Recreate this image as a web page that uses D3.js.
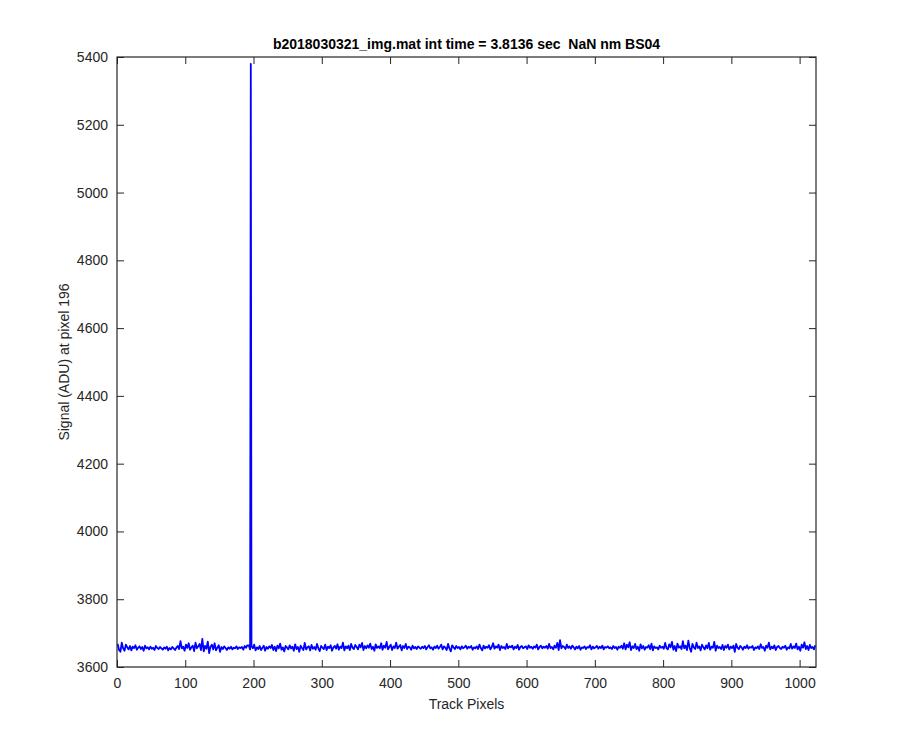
<!DOCTYPE html>
<html>
<head>
<meta charset="utf-8">
<script src="https://cdn.jsdelivr.net/npm/d3@7"></script>
<style>
  html, body { margin: 0; padding: 0; background: #fff; }
  svg { display: block; font-family: "Liberation Sans", Arial, Helvetica, sans-serif; }
</style>
</head>
<body>
<svg id="chart" width="900" height="750"></svg>
<script>
// ---- Data ----
const titleText = "b2018030321_img.mat int time = 3.8136 sec  NaN nm BS04";
const xLabel = "Track Pixels";
const yLabel = "Signal (ADU) at pixel 196";
const xTicks = [0, 100, 200, 300, 400, 500, 600, 700, 800, 900, 1000];
const yTicks = [3600, 3800, 4000, 4200, 4400, 4600, 4800, 5000, 5200, 5400];
const xDomain = [0, 1024];
const yDomain = [3600, 5400];
// signal sampled at odd track pixels 1,3,5,...,1023
const signalOdd = [
3668,3650,3645,3672,3655,3648,3666,3658,3652,3662,3649,3660,3656,3664,3651,3657,
3661,3653,3659,3648,3663,3655,3658,3652,3660,3654,3657,3650,3662,3656,3653,3659,
3655,3651,3658,3654,3660,3649,3656,3652,3659,3655,3650,3657,3662,3653,3676,3655,
3660,3648,3666,3656,3670,3651,3658,3663,3647,3672,3655,3661,3668,3650,3683,3646,
3662,3654,3675,3641,3660,3666,3652,3670,3649,3657,3664,3645,3659,3653,3661,3656,
3650,3658,3654,3660,3652,3657,3655,3661,3653,3658,3656,3659,3651,3662,3657,3664,
3664,3652,3661,3655,3666,3649,3658,3653,3662,3650,3657,3663,3648,3659,3654,3661,
3656,3665,3650,3660,3647,3663,3655,3669,3651,3658,3646,3662,3657,3652,3664,3655,
3660,3648,3667,3653,3659,3645,3663,3656,3650,3671,3652,3658,3661,3649,3665,3654,
3659,3651,3668,3655,3647,3662,3657,3653,3666,3650,3660,3656,3664,3648,3658,3662,
3654,3667,3651,3660,3656,3672,3649,3661,3655,3663,3650,3668,3657,3653,3665,3659,
3652,3666,3658,3671,3650,3662,3655,3664,3657,3669,3653,3660,3648,3667,3656,3661,
3655,3670,3651,3663,3657,3674,3652,3659,3666,3650,3661,3656,3672,3654,3660,3665,
3649,3662,3656,3668,3653,3660,3658,3651,3663,3655,3659,3653,3661,3657,3654,3660,
3656,3662,3652,3659,3664,3655,3658,3651,3660,3656,3663,3654,3659,3666,3652,3661,
3657,3650,3668,3655,3646,3664,3658,3653,3662,3656,3659,3652,3661,3655,3658,3663,
3654,3660,3657,3662,3651,3658,3655,3661,3653,3666,3656,3649,3663,3655,3660,3657,
3664,3652,3659,3670,3654,3661,3657,3666,3650,3662,3656,3659,3653,3668,3655,3661,
3658,3663,3652,3660,3656,3665,3651,3659,3662,3655,3658,3661,3653,3664,3657,3660,
3654,3661,3657,3666,3652,3659,3663,3655,3660,3657,3662,3654,3668,3656,3659,3652,
3663,3657,3671,3650,3679,3655,3662,3659,3653,3666,3656,3661,3654,3663,3658,3652,
3660,3655,3662,3651,3658,3656,3661,3653,3659,3657,3664,3652,3660,3655,3658,3662,
3654,3660,3656,3663,3652,3659,3657,3661,3655,3658,3653,3662,3656,3659,3651,3660,
3657,3663,3654,3670,3652,3666,3658,3673,3650,3661,3656,3668,3653,3660,3648,3667,
3655,3662,3651,3659,3657,3664,3653,3669,3649,3661,3656,3658,3652,3663,3657,3660,
3654,3671,3656,3652,3667,3658,3674,3651,3662,3647,3669,3657,3661,3653,3676,3655,
3663,3650,3678,3656,3645,3668,3658,3653,3672,3656,3661,3649,3666,3658,3652,3664,
3655,3671,3651,3660,3657,3674,3648,3663,3656,3659,3653,3665,3650,3662,3657,3666,
3652,3660,3656,3663,3645,3668,3657,3653,3662,3658,3651,3660,3656,3664,3654,3659,
3657,3662,3650,3658,3655,3661,3653,3667,3656,3659,3648,3663,3657,3672,3652,3660,
3655,3664,3650,3659,3662,3656,3653,3660,3657,3663,3651,3658,3655,3668,3654,3661,
3656,3669,3652,3660,3648,3666,3657,3673,3653,3662,3650,3665,3656,3659,3652,3664
];
const spikePixel = 196;
const spikeValue = 5380;

// ---- Build series ----
const points = signalOdd.map((v, i) => [2 * i + 1, v]);
points.push([spikePixel, spikeValue]);
points.sort((a, b) => a[0] - b[0]);

// ---- Layout ----
const svg = d3.select("#chart");
const m = { left: 117, right: 816, top: 57, bottom: 667 };
const x = d3.scaleLinear().domain(xDomain).range([m.left, m.right]);
const y = d3.scaleLinear().domain(yDomain).range([m.bottom, m.top]);
const axisColor = "#262626";
const tickLen = 7;
const fs = "14px";

// data line (clipped to axes)
svg.append("clipPath").attr("id", "clip")
  .append("rect").attr("x", m.left).attr("y", m.top)
  .attr("width", m.right - m.left).attr("height", m.bottom - m.top);

svg.append("path")
  .datum(points)
  .attr("clip-path", "url(#clip)")
  .attr("fill", "none")
  .attr("stroke", "#0000ff")
  .attr("stroke-width", 1.8)
  .attr("stroke-linejoin", "round")
  .attr("d", d3.line().x(d => x(d[0])).y(d => y(d[1])));

// axes with inner ticks
function styleAxis(g) {
  g.select(".domain").remove();
  g.selectAll(".tick line").attr("stroke", axisColor).attr("stroke-width", 1);
  g.selectAll(".tick text").attr("fill", axisColor)
    .style("font-size", fs).style("font-family", '"Liberation Sans", Arial, sans-serif');
}
svg.append("g").attr("transform", `translate(0,${m.bottom})`)
  .call(d3.axisBottom(x).tickValues(xTicks).tickSize(-tickLen).tickPadding(11).tickFormat(d3.format("d")))
  .call(styleAxis);
svg.append("g").attr("transform", `translate(0,${m.top})`)
  .call(d3.axisTop(x).tickValues(xTicks).tickSize(-tickLen).tickFormat(""))
  .call(styleAxis);
svg.append("g").attr("transform", `translate(${m.left},0)`)
  .call(d3.axisLeft(y).tickValues(yTicks).tickSize(-tickLen).tickPadding(9).tickFormat(d3.format("d")))
  .call(styleAxis);
svg.append("g").attr("transform", `translate(${m.right},0)`)
  .call(d3.axisRight(y).tickValues(yTicks).tickSize(-tickLen).tickFormat(""))
  .call(styleAxis);

// box
svg.append("rect")
  .attr("x", m.left).attr("y", m.top)
  .attr("width", m.right - m.left).attr("height", m.bottom - m.top)
  .attr("fill", "none").attr("stroke", axisColor).attr("stroke-width", 1.2);

// title
svg.append("text")
  .attr("x", (m.left + m.right) / 2).attr("y", 49)
  .attr("text-anchor", "middle")
  .attr("fill", "#000")
  .attr("xml:space", "preserve")
  .style("white-space", "pre")
  .style("font-size", fs).style("font-weight", "bold")
  .text(titleText);

// x label
svg.append("text")
  .attr("x", (m.left + m.right) / 2).attr("y", 709)
  .attr("text-anchor", "middle")
  .attr("fill", axisColor)
  .style("font-size", fs)
  .text(xLabel);

// y label
svg.append("text")
  .attr("transform", `translate(69,${(m.top + m.bottom) / 2}) rotate(-90)`)
  .attr("text-anchor", "middle")
  .attr("fill", axisColor)
  .style("font-size", fs)
  .text(yLabel);
</script>
</body>
</html>
